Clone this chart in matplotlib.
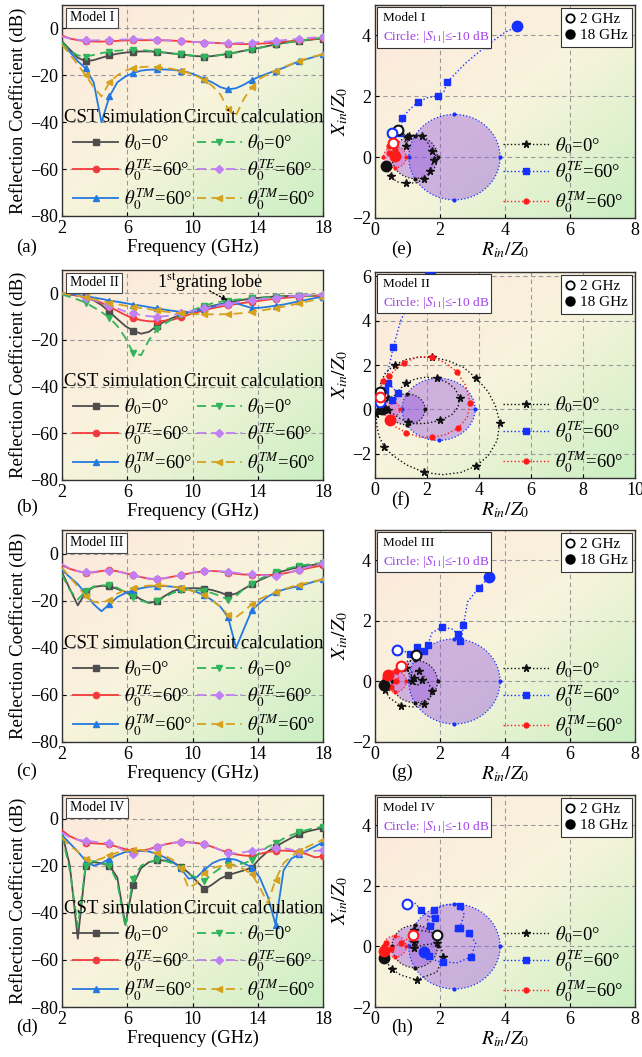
import numpy as np
import matplotlib
matplotlib.use('Agg')
import matplotlib.pyplot as plt
from matplotlib.lines import Line2D
from matplotlib.patches import Circle, Rectangle
from matplotlib.colors import LinearSegmentedColormap

plt.rcParams['font.family'] = ['Liberation Serif', 'DejaVu Serif']
plt.rcParams['mathtext.fontset'] = 'stix'
plt.rcParams['axes.unicode_minus'] = True

# ---------------- frequency grid (GHz) ----------------
freq = [2.00, 2.48, 2.97, 3.45, 3.94, 4.42, 4.91, 5.39, 5.88, 6.36, 6.85, 7.33,
        7.82, 8.30, 8.79, 9.27, 9.76, 10.24, 10.73, 11.21, 11.70, 12.18, 12.67,
        13.15, 13.64, 14.12, 14.61, 15.09, 15.58, 16.06, 16.55, 17.03, 17.52, 18.00]

# ---------------- Model I (a) ----------------
a_cst_0 = [-5.5, -9, -12.5, -14, -13.5, -12.5, -11.5, -10.8, -10.3, -10, -9.8, -9.8, -10, -10.3, -10.7, -11,
           -11.5, -11.8, -12, -11.8, -11.3, -10.8, -10.2, -9.5, -8.9, -8.2, -7.5, -6.8, -6.2, -5.7, -5.3, -5, -4.6, -4.3]
a_cst_te = [-3, -4.3, -5, -5.5, -5.6, -5.6, -5.5, -5.3, -5.1, -5, -5, -5, -5, -5.1, -5.2, -5.4, -5.6, -5.8, -6,
            -6.1, -6.3, -6.5, -6.6, -6.7, -6.6, -6.5, -6.3, -6, -5.7, -5.4, -5.1, -4.8, -4.4, -4]
a_cst_tm = [-6, -10, -14, -17, -23, -40, -29, -23, -20.5, -19, -18, -17.6, -17.5, -17.5, -17.7, -18, -18.8, -20,
            -21.5, -23, -25, -26, -25.5, -24, -22, -20.5, -19.2, -18, -16.8, -15.3, -14, -13, -12, -11]
a_cir_0 = [-6, -9.5, -11.5, -12, -11.3, -10.5, -10, -9.5, -9.2, -9, -9.2, -9.5, -10, -10.3, -10.7, -11, -11.4,
           -11.7, -12, -11.8, -11.4, -11, -10.3, -9.6, -9, -8.3, -7.6, -6.9, -6.3, -5.8, -5.3, -4.8, -4.4, -4]
a_cir_te = [-3.5, -4.3, -4.8, -5.1, -5.1, -5, -4.9, -4.8, -4.7, -4.6, -4.6, -4.7, -4.8, -5, -5.2, -5.4, -5.6,
            -5.8, -6, -6.1, -6.2, -6.2, -6.2, -6.1, -6, -5.8, -5.6, -5.3, -5, -4.7, -4.4, -4.1, -3.8, -3.5]
a_cir_tm = [-7, -11, -15.5, -20, -25, -29, -23, -20, -18, -17, -16.5, -16.3, -16.5, -16.8, -17.3, -18, -19,
            -20.3, -22, -24.5, -28, -34.5, -37, -30, -25, -21.5, -19.5, -18, -16.5, -15.2, -14, -12.8, -11.8, -11]

# ---------------- Model II (b) ----------------
b_cst_0 = [0, -0.5, -1, -1.7, -3, -5, -7.9, -11, -14, -16, -17.3, -16.5, -14, -12, -10.5, -9.3, -8.2, -7.2,
           -6.2, -5.4, -4.6, -3.9, -3.3, -2.7, -2.2, -1.9, -1.6, -1.4, -1.2, -1.1, -1, -1, -1, -1]
b_cst_te = [0, -0.5, -1, -1.8, -2.8, -4, -5.8, -7.5, -9.3, -10.7, -11.5, -12, -12, -11.7, -11.3, -10.3, -9.2,
            -8.2, -7.2, -6.4, -5.7, -5.1, -4.6, -4.1, -3.6, -3.2, -2.7, -2.3, -2, -1.7, -1.4, -1.2, -1.1, -1.0]
b_cst_tm = [0, -0.3, -0.7, -1.2, -1.8, -2.4, -3.1, -3.6, -4.2, -4.8, -5.3, -5.9, -6.5, -7, -7.5, -7.9, -8,
            -7.6, -6.8, -5.8, -4.8, -4.1, -4.2, -5.3, -6.3, -6.2, -5.8, -5.3, -4.8, -4.1, -3.4, -2.7, -2, -1.5]
b_cir_0 = [-0.5, -1.5, -2.7, -4, -6, -8, -10.5, -14, -19, -25.5, -26.5, -20, -15.5, -13, -11, -9.5, -8, -6.6,
           -5.3, -4.3, -3.6, -3.1, -2.7, -2.4, -2.1, -1.9, -1.7, -1.5, -1.4, -1.3, -1.2, -1.1, -1.0, -1.0]
b_cir_te = [0, -0.4, -1, -1.8, -2.8, -4, -5.3, -6.5, -7.8, -8.6, -9.3, -9.8, -10, -9.8, -9.3, -8.5, -7.9, -7.2,
            -6.5, -5.8, -5.1, -4.6, -4, -3.5, -3.0, -2.6, -2.2, -1.8, -1.5, -1.2, -1, -0.8, -0.7, -0.6]
b_cir_tm = [0, -0.4, -1, -1.7, -2.5, -3.3, -4, -4.7, -5.3, -5.8, -6.3, -6.8, -7.3, -7.8, -8.2, -8.6, -8.8,
            -8.9, -9, -9, -9, -8.9, -8.7, -8.4, -8, -7.5, -6.9, -6.3, -5.7, -5, -4.3, -3.5, -2.8, -2.1]

# ---------------- Model III (c) ----------------
c_cst_0 = [-8, -15, -22, -16.5, -14.2, -13.7, -13.9, -15, -16.3, -17.5, -19.5, -21, -20.2, -18, -16, -15,
           -14.7, -14.7, -14.9, -15.5, -16.5, -17.8, -17, -15, -13.1, -11.3, -9.8, -8.5, -7.4, -6.5, -5.8, -5.2, -4.7, -4.3]
c_cst_te = [-5, -6.5, -7.5, -8.2, -8, -7.4, -7.1, -7.5, -8.3, -9.2, -10, -10.7, -10.9, -10.5, -9.8, -9.2, -8.5,
            -7.9, -7.5, -7.4, -7.6, -8.1, -8.6, -8.9, -9, -9.1, -9.1, -9, -8.5, -7.8, -7.1, -6.3, -5.6, -5]
c_cst_tm = [-7, -10, -13, -17, -21.5, -24.5, -21.5, -18.5, -16.8, -15.6, -14.7, -14.1, -13.8, -13.8, -14.1,
            -14.6, -15.3, -16.3, -17.8, -19.8, -22.5, -27, -40, -32, -24, -21, -18.3, -16.5, -15.3, -14.5, -13.8, -12.8, -11.8, -11]
c_cir_0 = [-9, -15.5, -19.5, -16, -14, -13.5, -13.5, -14.5, -16.5, -18.5, -20, -21, -20.3, -18.5, -16.7, -15.6,
           -15.3, -15.5, -15.9, -16.8, -18, -19.6, -18, -15, -12.8, -10.8, -9.2, -7.8, -6.8, -6, -5.2, -4.7, -4.3, -4]
c_cir_te = [-4.5, -6.3, -7.5, -8, -7.8, -7.3, -7.2, -7.6, -8.4, -9.2, -10, -10.6, -10.8, -10.4, -9.8, -9.2,
            -8.4, -7.8, -7.5, -7.4, -7.5, -7.8, -8.2, -8.6, -8.8, -9.1, -9.4, -9.5, -8.8, -7.8, -6.8, -5.8, -4.9, -4]
c_cir_tm = [-6, -10, -14, -18, -20.5, -21, -19.6, -17, -15.5, -14.6, -14, -13.6, -13.5, -13.6, -14, -14.5, -15.4,
            -16.5, -17.8, -19.8, -22.5, -26, -27, -24.5, -21.5, -19.3, -17.8, -16.5, -15.2, -14.1, -13.2, -12.4, -11.7, -11]

# ---------------- Model IV (d) ----------------
d_cst_0 = [-6, -20, -51, -20, -18.5, -19, -20, -25, -45, -28, -21, -18.5, -17.7, -17.8, -18.5, -20.4, -23,
           -26.5, -30, -28, -25.5, -24, -23, -22, -20.8, -17, -14, -11.9, -10, -8.2, -6.7, -5.5, -4.7, -4]
d_cst_te = [-5, -7.5, -9, -10.2, -10.5, -10.7, -11, -12, -13, -13.7, -13.7, -13, -11.9, -11, -10.3, -9.9, -10,
            -10.4, -10.9, -12, -13.3, -14.4, -15.2, -15.7, -15.9, -15, -14.2, -13.7, -13.6, -13.8, -14.2, -15.2, -16.5, -16]
d_cst_tm = [-7, -10.5, -14, -18, -20, -19, -17, -15.5, -14.2, -14, -13.6, -14, -15, -16.5, -18.5, -21, -25.5,
            -25, -21.8, -19, -17.5, -17, -17.5, -19, -20.8, -25, -33, -45, -22, -17, -15.2, -13.5, -11.8, -10]
d_cir_0 = [-7, -22, -46, -20, -18, -18.7, -20, -27, -46, -25.5, -20, -18.5, -17.7, -18, -19, -21, -23.5, -25,
           -26.5, -23.5, -21, -19.8, -19.5, -19, -17.7, -14.5, -12, -10.5, -8.5, -7, -5.8, -4.8, -4, -3.5]
d_cir_te = [-6, -8, -9, -9.5, -9.8, -10.2, -10.5, -12, -14, -15.2, -14.5, -13.3, -12, -11, -10.3, -10, -10.2,
            -10.5, -11, -12, -13.3, -14.5, -14.8, -14.3, -13.7, -13.2, -12.8, -12.3, -12.5, -13.2, -14, -14, -13.7, -13.5]
d_cir_tm = [-8, -11.5, -14, -17, -18, -17, -15.6, -14.5, -13.8, -13.3, -13.3, -13.8, -14.7, -15.8, -17.5, -21.2,
            -29.5, -27.5, -23, -21, -20.2, -19.8, -20, -21.5, -23.7, -29, -36, -26, -19, -16, -13.7, -12, -10.5, -9]

# ---------------- impedance trajectories (R_in/Z0, X_in/Z0) ----------------
e_blk_R = [0.70, 0.85, 0.97, 1.02, 0.95, 0.92, 1.05, 1.25, 1.44, 1.62, 1.74, 1.90, 1.80, 1.74, 1.69, 1.64, 1.50, 1.28, 0.95, 0.67, 0.48, 0.38, 0.34]
e_blk_X = [0.88, 0.80, 0.65, 0.45, 0.35, 0.50, 0.68, 0.75, 0.71, 0.48, 0.21, 0.02, -0.10, -0.28, -0.47, -0.60, -0.72, -0.84, -0.86, -0.81, -0.62, -0.42, -0.28]
e_blu_R = [0.51, 0.41, 0.48, 0.62, 0.77, 0.82, 0.84, 1.05, 1.31, 1.60, 1.95, 2.12, 2.22, 2.80, 3.46, 4.00, 4.38]
e_blu_X = [0.80, 0.82, 0.78, 0.78, 0.80, 1.00, 1.29, 1.55, 1.80, 1.95, 2.02, 2.15, 2.47, 3.10, 3.69, 4.10, 4.30]
e_red_R = [0.56, 0.45, 0.42, 0.55, 0.60, 0.50, 0.42, 0.45, 0.55, 0.62]
e_red_X = [0.45, 0.50, 0.35, 0.30, 0.25, 0.20, 0.12, 0.02, -0.02, 0.05]

f_blk_R = [0.20, 0.22, 0.40, 0.75, 1.20, 1.67, 2.20, 2.80, 3.40, 3.90, 4.35, 4.65, 4.80, 4.70, 4.36, 3.90,
           3.30, 2.60, 1.90, 1.20, 0.65, 0.35, 0.15, 0.06, 0.05, 0.12, 0.30, 0.50, 0.75, 0.95, 1.20, 1.55,
           1.95, 2.40, 2.80, 3.10, 3.25, 3.20, 2.95, 2.50, 2.00, 1.55, 1.25, 0.95, 0.70, 0.50, 0.28]
f_blk_X = [0.80, 1.20, 1.65, 2.00, 2.25, 2.35, 2.35, 2.20, 1.90, 1.40, 0.80, 0.10, -0.60, -1.40, -2.09, -2.55,
           -2.85, -2.95, -2.85, -2.50, -2.05, -1.68, -1.20, -0.66, -0.20, 0.15, 0.35, 0.50, 0.62, 0.90, 1.20, 1.37,
           1.45, 1.40, 1.20, 0.90, 0.50, 0.10, -0.25, -0.50, -0.63, -0.65, -0.58, -0.40, -0.20, -0.05, 0.00]
f_blu_R = [0.19, 0.25, 0.38, 0.45, 0.64, 0.83, 0.88, 0.70, 0.50, 0.48, 0.70, 1.00, 1.50, 2.12]
f_blu_X = [0.33, 0.60, 0.88, 0.70, 0.42, 0.48, 0.72, 0.95, 1.20, 1.60, 2.80, 4.05, 5.20, 6.08]
f_red_R = [0.20, 0.22, 0.30, 0.45, 0.55, 0.75, 1.10, 1.67, 2.20, 2.70, 3.15, 3.50, 3.65, 3.55, 3.20, 2.70,
           2.20, 1.70, 1.20, 0.80, 0.58]
f_red_X = [0.55, 0.95, 1.30, 1.50, 1.52, 1.75, 2.10, 2.38, 2.35, 2.10, 1.70, 1.05, 0.30, -0.35, -0.85, -1.15,
           -1.27, -1.25, -1.05, -0.80, -0.50]

g_blk_R = [1.26, 1.10, 0.95, 1.05, 1.20, 1.35, 1.45, 1.30, 1.15, 1.10, 1.35, 1.60, 1.75, 1.70, 1.50, 1.23, 0.80, 0.45, 0.31, 0.27]
g_blk_X = [0.86, 0.70, 0.45, 0.25, 0.10, 0.12, 0.05, -0.15, 0.00, 0.30, 0.35, 0.05, -0.30, -0.55, -0.75, -0.85, -0.80, -0.55, -0.28, -0.11]
g_blu_R = [0.69, 0.90, 1.08, 1.20, 1.30, 1.41, 1.50, 1.59, 1.62, 1.75, 2.05, 2.40, 2.55, 2.45, 2.60, 2.67, 2.72, 2.85, 3.20, 3.52]
g_blu_X = [1.03, 1.00, 0.89, 1.00, 1.15, 1.13, 1.00, 0.97, 1.20, 1.60, 1.80, 1.72, 1.55, 1.42, 1.35, 1.45, 1.85, 2.63, 3.10, 3.45]
g_red_R = [0.80, 0.70, 0.64, 0.75, 0.65, 0.55, 0.48, 0.35, 0.30, 0.41]
g_red_X = [0.50, 0.45, 0.33, 0.15, 0.00, -0.10, -0.20, -0.05, 0.10, 0.22]

h_blk_R = [1.90, 1.60, 1.20, 1.10, 1.20, 1.35, 1.20, 1.50, 1.90, 2.05, 2.10, 1.90, 1.28, 0.80, 0.51, 0.35, 0.28]
h_blk_X = [0.38, 0.50, 0.55, 0.30, 0.15, 0.10, -0.05, 0.05, 0.10, -0.05, -0.35, -0.85, -1.10, -0.95, -0.75, -0.50, -0.38]
h_blu_R = [0.99, 1.25, 1.40, 1.57, 1.85, 1.85, 1.70, 1.60, 1.80, 2.18, 2.60, 2.75, 2.60, 2.45, 2.55, 2.67, 2.90, 3.10, 2.95, 2.50, 2.10, 1.92, 1.65, 1.50]
h_blu_X = [1.40, 1.42, 1.20, 1.02, 0.95, 0.75, 0.68, 0.85, 1.20, 1.38, 1.35, 1.05, 0.60, 0.50, 0.62, 0.50, 0.45, 0.10, -0.35, -0.55, -0.50, -0.50, -0.30, -0.17]
h_red_R = [1.18, 1.00, 0.80, 0.60, 0.50, 0.45, 0.35, 0.28, 0.28]
h_red_X = [0.38, 0.25, 0.10, 0.00, -0.10, 0.05, 0.10, -0.05, -0.14]

# |S11| <= -10 dB circles (center R, radius) for theta0=0, TE 60, TM 60
circ_center = [1.222, 2.444, 0.611]
circ_radius = [0.703, 1.405, 0.351]

model_names = ['Model I', 'Model II', 'Model III', 'Model IV']
left_letters = ['(a)', '(b)', '(c)', '(d)']
right_letters = ['(e)', '(f)', '(g)', '(h)']
leg_left_labels = [r'$\theta_0$=0°', r'$\theta_0^{TE}$=60°', r'$\theta_0^{TM}$=60°']

# ---------------- styling ----------------
W, H = 642, 1057
fig = plt.figure(figsize=(W / 100, H / 100), dpi=100)

bg_cmap = LinearSegmentedColormap.from_list('bg', ['#fde8dc', '#f8f4dc', '#caefc3'])
bgu = np.linspace(0, 1, 200)
BU, BV = np.meshgrid(bgu, bgu)
bg_img = 0.5 * (BU + (1 - BV))


def add_bg(ax):
    ax.imshow(bg_img, extent=(0, 1, 0, 1), transform=ax.transAxes, origin='lower',
              cmap=bg_cmap, vmin=0, vmax=1, aspect='auto', zorder=-2, interpolation='bilinear')


def style_ax(ax):
    ax.set_axisbelow(True)
    ax.grid(True, ls=(0, (4, 3)), color='#999999', lw=0.8)
    for s in ax.spines.values():
        s.set_color('#333333')
        s.set_linewidth(1.0)
    ax.tick_params(direction='in', length=3, labelsize=13, pad=3)


def px_rect(left, top, right, bottom):
    return [left / W, 1 - bottom / H, (right - left) / W, (bottom - top) / H]


left_tops = [(5, 216), (270, 480), (530, 742), (795, 1007)]
right_tops = [(5, 218), (272, 478), (530, 742), (795, 1007)]
left_letter_y = [247, 507, 771, 1027]
right_letter_y = [249, 500, 772, 1027]

left_data = [
    (a_cst_0, a_cst_te, a_cst_tm, a_cir_0, a_cir_te, a_cir_tm),
    (b_cst_0, b_cst_te, b_cst_tm, b_cir_0, b_cir_te, b_cir_tm),
    (c_cst_0, c_cst_te, c_cst_tm, c_cir_0, c_cir_te, c_cir_tm),
    (d_cst_0, d_cst_te, d_cst_tm, d_cir_0, d_cir_te, d_cir_tm),
]
left_styles = [
    dict(color='#4d4d4d', ls='-', marker='s', ms=4.5),
    dict(color='#f53b3b', ls='-', marker='o', ms=4.5),
    dict(color='#2479e0', ls='-', marker='^', ms=5),
    dict(color='#2fb55a', ls=(0, (5, 3)), marker='v', ms=5),
    dict(color='#c07ff5', ls=(0, (5, 3)), marker='D', ms=4),
    dict(color='#d6a11c', ls=(0, (5, 3)), marker='<', ms=5),
]

for k in range(4):
    top, bot = left_tops[k]
    ax = fig.add_axes(px_rect(62, top, 323, bot))
    add_bg(ax)
    style_ax(ax)
    handles = []
    for j, (yv, st) in enumerate(zip(left_data[k], left_styles)):
        ln, = ax.plot(freq, yv, color=st['color'], ls=st['ls'], lw=1.3, marker=st['marker'],
                      ms=st['ms'], markevery=(3, 3), zorder=3, label=leg_left_labels[j % 3])
        handles.append(ln)
    ax.set_xlim(2, 18)
    ax.set_ylim(-80, 10)
    ax.set_xticks([2, 6, 10, 14, 18])
    ax.set_yticks([0, -20, -40, -60, -80])
    ax.set_xlabel('Frequency (GHz)', fontsize=13.5, labelpad=1)
    ax.set_ylabel('Reflection Coefficient (dB)', fontsize=13.5, labelpad=2)
    ax.text(2.15, -38, 'CST simulation', fontsize=13.5, va='center', ha='left', zorder=5)
    ax.text(9.5, -38, 'Circuit calculation', fontsize=13.5, va='center', ha='left', zorder=5)
    ax.legend(handles=handles, ncol=2, loc='lower left', bbox_to_anchor=(0.0, -0.035),
              frameon=False, fontsize=13.5, handlelength=2.4, handletextpad=0.3,
              columnspacing=0.25, labelspacing=0.2, borderaxespad=0.2)
    ax.text(0.03, 0.94, model_names[k], transform=ax.transAxes, fontsize=10, va='center', ha='left',
            bbox=dict(boxstyle='square,pad=0.25', fc='white', ec='#444444', lw=0.8), zorder=6)
    if k == 1:
        ax.text(7.8, 4.3, r'1$^{\rm st}$grating lobe', fontsize=13, va='center', ha='left', zorder=6)
        ax.annotate('', xy=(12.3, -3.6), xytext=(10.9, 1.6),
                    arrowprops=dict(arrowstyle='-|>', ls=':', color='black', lw=1.0,
                                    mutation_scale=8), zorder=6)
    fig.text(16 / W, 1 - left_letter_y[k] / H, left_letters[k], fontsize=13.5, va='center', ha='left')

right_data = [
    ((e_blk_R, e_blk_X), (e_blu_R, e_blu_X), (e_red_R, e_red_X)),
    ((f_blk_R, f_blk_X), (f_blu_R, f_blu_X), (f_red_R, f_red_X)),
    ((g_blk_R, g_blk_X), (g_blu_R, g_blu_X), (g_red_R, g_red_X)),
    ((h_blk_R, h_blk_X), (h_blu_R, h_blu_X), (h_red_R, h_red_X)),
]
right_every = [2, 3, 2, 2]
right_colors = ['#111111', '#1530ff', '#ff1a1a']
right_markers = ['*', 's', 'o']
right_ms = [5.5, 4.5, 3.5]
circle_fill = ['#9457e0', '#9457e0', '#e06ad0']

for k in range(4):
    top, bot = right_tops[k]
    ax = fig.add_axes(px_rect(375, top, 635, bot))
    add_bg(ax)
    style_ax(ax)
    for c, r, col, fc, mk in zip(circ_center, circ_radius, right_colors, circle_fill, right_markers):
        ax.add_patch(Circle((c, 0), r, fc=fc, alpha=0.42, ec='none', zorder=2))
        ax.add_patch(Circle((c, 0), r, fc='none', ec=col, ls=':', lw=0.9, zorder=2.5))
        ax.plot([c - r, c, c + r, c], [0, r, 0, -r], ls='none', marker='.', ms=4, color=col, zorder=2.6)
    leg_handles = []
    for j, ((Rv, Xv), col, mk, ms) in enumerate(zip(right_data[k], right_colors, right_markers, right_ms)):
        ev = right_every[k] if j == 0 else 2
        ax.plot(Rv, Xv, ls=':', color=col, lw=1.0, marker=mk, ms=ms, markevery=ev, zorder=4)
        ax.plot(Rv[0], Xv[0], ls='none', marker='o', mfc='white', mec=col, ms=7, mew=1.5, zorder=5)
        ax.plot(Rv[-1], Xv[-1], ls='none', marker='o', color=col, ms=7.5, zorder=5)
        leg_handles.append(Line2D([], [], ls=':', color=col, lw=1.0, marker=mk, ms=ms))
    if k == 1:
        ax.set_xlim(0, 10)
        ax.set_ylim(-3.1, 6.2)
        ax.set_xticks([0, 2, 4, 6, 8, 10])
        ax.set_yticks([-2, 0, 2, 4, 6])
    else:
        ax.set_xlim(0, 8)
        ax.set_ylim(-2, 5)
        ax.set_xticks([0, 2, 4, 6, 8])
        ax.set_yticks([-2, 0, 2, 4])
    ax.set_xlabel(r'$R_{in}/Z_0$', fontsize=14, labelpad=1)
    ax.set_ylabel(r'$X_{in}/Z_0$', fontsize=14, labelpad=1)
    leg1 = ax.legend(leg_handles, leg_left_labels, loc='lower right', bbox_to_anchor=(1.0, -0.04),
                     frameon=False, fontsize=13.5, handlelength=2.5, handletextpad=0.3,
                     labelspacing=0.22, borderaxespad=0.2)
    ax.add_artist(leg1)
    gh = [Line2D([], [], ls='none', marker='o', mfc='white', mec='black', mew=1.3, ms=6),
          Line2D([], [], ls='none', marker='o', color='black', ms=6.5)]
    leg2 = ax.legend(gh, ['2 GHz', '18 GHz'], loc='upper right', fontsize=11, frameon=True,
                     fancybox=False, edgecolor='#333333', framealpha=1, handlelength=0.6,
                     handletextpad=0.35, labelspacing=0.15, borderpad=0.3, borderaxespad=0.2)
    leg2.get_frame().set_linewidth(0.8)
    ax.add_patch(Rectangle((0.008, 0.80), 0.44, 0.19, transform=ax.transAxes, fc='white',
                           ec='#333333', lw=0.8, zorder=6))
    ax.text(0.03, 0.94, model_names[k], transform=ax.transAxes, fontsize=9.5, va='center',
            ha='left', zorder=7)
    ax.text(0.03, 0.85, r'Circle: |$S_{11}$|≤-10 dB', transform=ax.transAxes, fontsize=9.5,
            va='center', ha='left', color='#a040e8', zorder=7)
    fig.text(391 / W, 1 - right_letter_y[k] / H, right_letters[k], fontsize=13.5, va='center', ha='left')

fig.savefig('out.png', dpi=100)
